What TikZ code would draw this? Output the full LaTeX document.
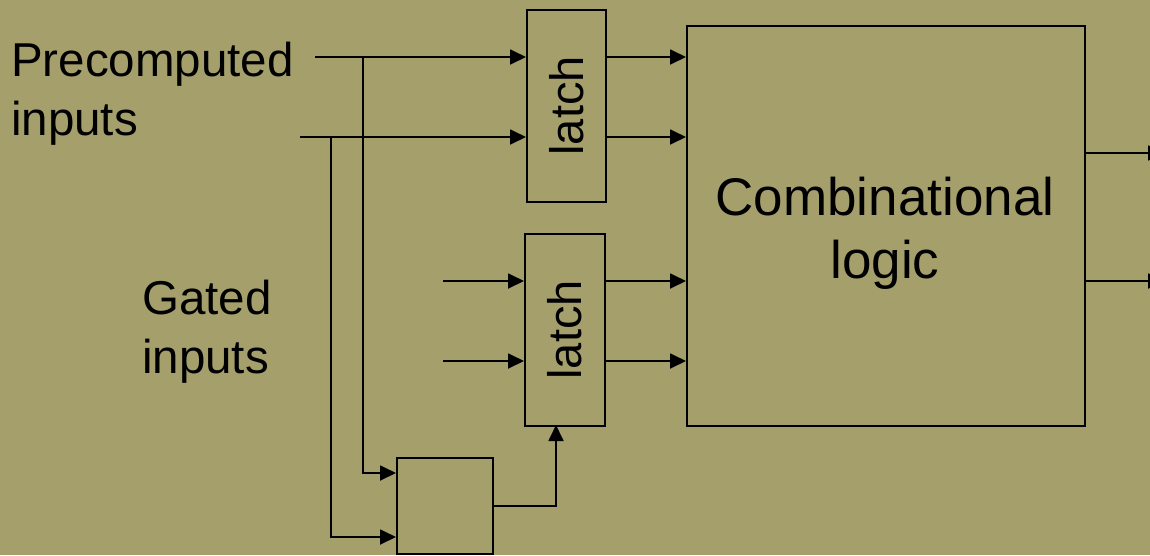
\documentclass[tikz,border=0pt]{standalone}
\usepackage{fontspec}
\setmainfont{Liberation Sans}
\usetikzlibrary{arrows.meta}
\definecolor{bg}{RGB}{165,159,108}
\begin{document}
\begin{tikzpicture}[x=1pt,y=-1pt,
  box/.style={draw, line width=1.8pt, inner sep=0pt, anchor=north west},
  wire/.style={line width=1.8pt},
  arr/.style={wire,-{Triangle[length=16pt,width=15pt]}},
  lbl/.style={font=\fontsize{47.5}{59}\selectfont, align=left, inner sep=0pt},
  latchtext/.style={rotate=90, font=\fontsize{47}{47}\selectfont, inner sep=0pt},
]
\fill[bg] (0,0) rectangle (1150,555);
\useasboundingbox (0,0) rectangle (1150,555);

% boxes
\node[box, minimum width=79pt, minimum height=192pt] (l1) at (526,9) {};
\node[latchtext] (l1t) at (l1.center) {latch};
\node[box, minimum width=80pt, minimum height=192pt] (l2) at (524,233) {};
\node[latchtext] (l2t) at (l2.center) {latch};
\node[box, minimum width=398pt, minimum height=400pt] (c) at (686,25) {};
\node[font=\fontsize{53}{63}\selectfont, align=center, inner sep=0pt, anchor=base] (ct) at (885,278) {Combinational\\logic};
\node[box, minimum width=96pt, minimum height=96pt] (g) at (396,457) {};

% labels
\node[lbl, anchor=base west] (pre) at (11,135) {Precomputed\\inputs};
\node[lbl, anchor=base west] (gat) at (142,373) {Gated\\inputs};

% coordinates
\coordinate (p1) at (315,57);
\coordinate (p2) at (300,137);
\coordinate (j1) at (363,57);
\coordinate (j2) at (331,137);
\coordinate (gin1) at (396,473);
\coordinate (gin2) at (396,537);
\coordinate (q1) at (443,281);
\coordinate (q2) at (443,361);
\coordinate (l2in) at (556,425);
\coordinate (o1) at (1164,153);
\coordinate (o2) at (1164,281);

% wires
\draw[arr] (p1) -- (p1 -| l1.west);
\draw[arr] (p2) -- (p2 -| l1.west);
\draw[arr] (j1) |- (gin1);
\draw[arr] (j2) |- (gin2);
\draw[arr] (p1 -| l1.east) -- (p1 -| c.west);
\draw[arr] (p2 -| l1.east) -- (p2 -| c.west);
\draw[arr] (q1) -- (q1 -| l2.west);
\draw[arr] (q2) -- (q2 -| l2.west);
\draw[arr] (q1 -| l2.east) -- (q1 -| c.west);
\draw[arr] (q2 -| l2.east) -- (q2 -| c.west);
\draw[arr] (g.east) -| (l2in);
\draw[arr] (o1 -| c.east) -- (o1);
\draw[arr] (o2 -| c.east) -- (o2);
\end{tikzpicture}
\end{document}
